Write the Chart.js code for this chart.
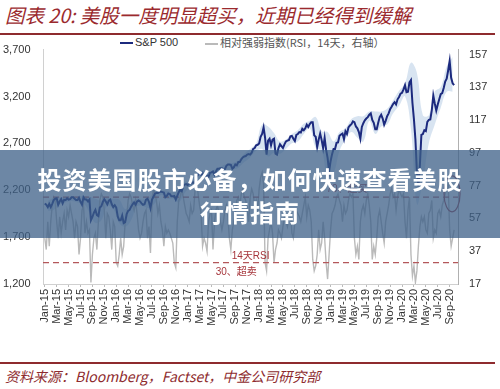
<!DOCTYPE html>
<html>
<head>
<meta charset="utf-8">
<script src="https://cdn.jsdelivr.net/npm/chart.js@4.4.0/dist/chart.umd.min.js"></script>
<style>
  body { margin: 0; width: 500px; height: 389px; background: #fff; position: relative; overflow: hidden; font-family: 'Liberation Sans', 'Noto Sans CJK SC', sans-serif; }
  .title { position: absolute; left: 5px; top: 2px; font: italic 19.5px 'Noto Sans CJK SC'; color: #9b2a2e; white-space: nowrap; line-height: 26px; }
  .rule { position: absolute; left: 0; width: 495px; height: 1.5px; background: #8e2b2e; }
  .legend { position: absolute; top: 35px; height: 14px; line-height: 14px; font-size: 11px; color: #333; white-space: nowrap; }
  .legend i { display: inline-block; width: 13px; vertical-align: middle; margin-right: 2px; }
  #c { position: absolute; left: 0; top: 40px; }
  .banner { position: absolute; left: 0; top: 150px; width: 500px; height: 88px; box-sizing: border-box; padding-top: 12px;
            background: rgba(60, 95, 135, 0.75); color: #fff; font: bold 24px 'Noto Sans CJK SC'; letter-spacing: 1px;
            text-align: center; line-height: 33px; }
  .source { position: absolute; left: 5px; top: 366px; font: italic 14px 'Noto Sans CJK SC'; color: #8e2b2e; white-space: nowrap; line-height: 20px; }
</style>
</head>
<body>
<div class="title">图表 20: 美股一度明显超买，近期已经得到缓解</div>
<div class="rule" style="top:33px"></div>
<div class="legend" style="left:120px"><i style="height:2px;background:#1c2a7e"></i>S&amp;P 500</div>
<div class="legend" style="left:205px;color:#555;font-family:'Noto Sans CJK SC'"><i style="height:1.5px;background:#bababa"></i>相对强弱指数(RSI，14天，右轴）</div>
<canvas id="c" width="500" height="306"></canvas>
<div class="banner">投资美国股市必备，如何快速查看美股<br>行情指南</div>
<div class="rule" style="top:362px"></div>
<div class="source">资料来源：Bloomberg，Factset，中金公司研究部</div>
<script>
// weekly points, 4 per month, Jan-15 .. Sep-20
const spx = [
  2058,2045,2020,2055, 2020,2055,2095,2110, 2115,2045,2080,2105, 2060,2100,2095,2115, 2100,2105,2125,2125, 2110,2095,2095,2120,
  2075,2045,2125,2100, 2100,2080,2100,1880, 1915,1960,1990,1935, 1925,2015,2030,2075, 2105,2080,2050,2090, 2100,2050,2020,2040,
  2015,1920,1880,1880, 1930,1850,1860,1945, 1980,1990,2025,2050, 2070,2045,2080,2090, 2080,2060,2045,2050, 2100,2110,2075,2010,
  2100,2130,2165,2170, 2170,2180,2185,2180, 2175,2125,2140,2165, 2160,2135,2135,2140, 2100,2140,2180,2205, 2190,2245,2260,2265,
  2255,2275,2270,2280, 2280,2300,2345,2365, 2395,2365,2385,2345, 2360,2355,2345,2385, 2390,2400,2365,2400, 2430,2430,2435,2435,
  2425,2425,2460,2475, 2475,2470,2430,2445, 2475,2465,2500,2500, 2530,2550,2560,2565, 2580,2585,2580,2600, 2640,2650,2680,2685,
  2700,2770,2800,2870, 2760,2580,2730,2750, 2680,2740,2750,2590, 2580,2650,2690,2670, 2650,2690,2720,2730, 2735,2775,2780,2750,
  2725,2790,2800,2820, 2815,2855,2840,2860, 2900,2875,2905,2925, 2925,2785,2770,2660, 2740,2805,2735,2650, 2760,2630,2545,2400,
  2510,2585,2640,2640, 2705,2710,2780,2795, 2805,2745,2830,2800, 2870,2890,2905,2935, 2925,2880,2860,2820, 2750,2875,2915,2945,
  2965,2980,3005,3020, 2950,2920,2850,2850, 2920,2980,3005,2965, 2900,2940,2990,3020, 3065,3090,3120,3140, 3115,3170,3195,3230,
  3240,3275,3320,3245, 3250,3350,3375,3130, 2955,2740,2390,2240, 2470,2790,2800,2840, 2830,2930,2950,2955, 3055,3210,3125,3050,
  3115,3170,3225,3235, 3290,3360,3390,3480, 3580,3400,3340,3320
];
const rsi = [
  45,38,55,40, 55,65,70,68, 55,45,58,48, 55,60,50,62, 58,65,60,55, 45,55,52,35,
  45,62,65,48, 55,48,50,18, 35,45,48,38, 55,68,72,70, 62,45,60,58, 50,38,55,52,
  30,28,35,45, 35,40,55,58, 68,72,70,65, 62,68,60,50, 45,48,55,60, 62,45,52,36,
  65,75,72,68, 60,65,55,50, 40,52,48,50, 48,45,42,30, 27,55,68,70, 75,70,65,60,
  58,55,65,60, 62,75,80,72, 65,60,40,45, 42,37,55,60, 62,38,55,62, 65,60,55,50,
  55,62,65,58, 45,38,50,55, 60,68,70,65, 72,75,70,68, 62,55,70,75, 72,65,68,62,
  75,82,85,78, 30,25,45,50, 55,48,30,38, 42,50,48,45, 52,58,55,52, 60,62,48,45,
  55,62,60,58, 55,60,65,70, 58,65,62,55, 32,25,28,35, 50,38,42,55, 45,30,20,35,
  50,60,62,65, 70,72,68,65, 55,65,60,62, 68,72,70,72, 45,35,40,32, 55,62,65,60,
  68,72,65,55, 32,40,35,45, 58,62,55,48, 42,55,60,65, 72,75,70,72, 62,70,75,72,
  70,72,55,45, 62,70,35,22, 28,18,25,40, 52,58,55,58, 50,48,60,62, 68,45,50,48,
  60,62,58,65, 68,72,75,78, 50,40,45,50
];
// monthly band around S&P 500
const bandHi = [
  2085,2120,2125,2125,2135,2135,2135,2130,2110,2090,2120,2110,
  2100,2000,2070,2110,2100,2120,2190,2195,2195,2180,2220,2290,
  2290,2380,2410,2390,2420,2450,2480,2490,2520,2590,2640,2700,
  2900,2880,2810,2720,2740,2800,2840,2910,2940,2980,2830,2820,
  2720,2820,2860,2960,2990,2990,3040,3040,3040,3070,3160,3260,
  3340,3560,3450,3000,3000,3250,3300,3520,3620
];
const bandLo = [
  1980,1990,2050,2070,2085,2070,2060,1960,1850,1880,2030,2000,
  1850,1810,1880,2030,2030,2010,2060,2150,2110,2110,2070,2170,
  2240,2260,2340,2330,2360,2400,2410,2420,2440,2500,2550,2620,
  2640,2560,2600,2590,2640,2700,2720,2800,2860,2650,2620,2340,
  2380,2620,2740,2820,2760,2720,2940,2800,2880,2900,3020,3100,
  3200,2850,2050,2300,2700,2900,3080,3250,3250
];
const monthTicks = [
  'Jan-15','Mar-15','May-15','Jul-15','Sep-15','Nov-15',
  'Jan-16','Mar-16','May-16','Jul-16','Sep-16','Nov-16',
  'Jan-17','Mar-17','May-17','Jul-17','Sep-17','Nov-17',
  'Jan-18','Mar-18','May-18','Jul-18','Sep-18','Nov-18',
  'Jan-19','Mar-19','May-19','Jul-19','Sep-19','Nov-19',
  'Jan-20','Mar-20','May-20','Jul-20','Sep-20'
];
const rsiTicks = [17, 37, 57, 77, 97, 117, 137, 157];
const overbought = 70, oversold = 30;

const xMin = -0.3, xMax = 69.4;
const weekly = arr => arr.map((v, i) => ({ x: i / 4, y: v }));
const monthly = arr => arr.map((v, i) => ({ x: i + 0.5, y: v }));
const flat = v => [{ x: xMin, y: v }, { x: xMax, y: v }];

const navy = '#1c2a7e';
const grey = '#bababa';
const darkRed = '#b4585b';

// the small red notes and the ellipse round the latest RSI peak
const notes = {
  id: 'notes',
  afterDatasetsDraw(chart) {
    const { ctx, scales: { x, y1 } } = chart;
    ctx.save();
    ctx.fillStyle = '#a6363c';
    ctx.font = "10px 'Liberation Sans', 'Noto Sans CJK SC'";
    ctx.textBaseline = 'middle';
    ctx.fillText('70、超买', x.getPixelForValue(47.3), y1.getPixelForValue(75));
    ctx.fillText('14天RSI', x.getPixelForValue(31.4), y1.getPixelForValue(34));
    ctx.fillText('30、超卖', x.getPixelForValue(28.7), y1.getPixelForValue(24));
    ctx.strokeStyle = '#a3434b';
    ctx.lineWidth = 1.2;
    ctx.beginPath();
    ctx.ellipse(x.getPixelForValue(68.4), y1.getPixelForValue(72), 8, 18, 0, 0, Math.PI * 2);
    ctx.stroke();
    ctx.restore();
  }
};

new Chart(document.getElementById('c'), {
  type: 'line',
  data: {
    datasets: [
      { label: 'S&P 500', data: weekly(spx), yAxisID: 'y', borderColor: navy, borderWidth: 2, pointRadius: 0 },
      { label: '70', data: flat(overbought), yAxisID: 'y1', borderColor: darkRed, borderWidth: 1.2, borderDash: [6, 4], pointRadius: 0 },
      { label: '30', data: flat(oversold), yAxisID: 'y1', borderColor: darkRed, borderWidth: 1.2, borderDash: [6, 4], pointRadius: 0 },
      { label: '相对强弱指数(RSI，14天，右轴）', data: weekly(rsi), yAxisID: 'y1', borderColor: grey, borderWidth: 1.4, pointRadius: 0 },
      { label: 'band hi', data: monthly(bandHi), yAxisID: 'y', borderColor: 'rgba(0,0,0,0)', backgroundColor: 'rgba(190,210,232,0.6)', pointRadius: 0, fill: '+1', tension: 0.4 },
      { label: 'band lo', data: monthly(bandLo), yAxisID: 'y', borderColor: 'rgba(0,0,0,0)', pointRadius: 0, fill: false, tension: 0.4 }
    ]
  },
  options: {
    responsive: false,
    animation: false,
    devicePixelRatio: 1,
    layout: { padding: { top: 9, left: 3, right: 0, bottom: 0 } },
    plugins: { legend: { display: false }, tooltip: { enabled: false } },
    scales: {
      x: {
        type: 'linear', min: xMin, max: xMax,
        afterBuildTicks: s => { s.ticks = monthTicks.map((_, i) => ({ value: i * 2 })); },
        afterFit: s => { s.height = 62; },
        ticks: {
          autoSkip: false, minRotation: 90, maxRotation: 90, padding: 2,
          color: '#333', font: { family: 'Liberation Sans', size: 11 },
          callback: v => monthTicks[Math.round(v / 2)]
        },
        grid: { drawOnChartArea: false, tickLength: 3, color: '#bbb' },
        border: { color: '#d0d0d0' }
      },
      y: {
        position: 'left', min: 1200, max: 3700,
        ticks: { stepSize: 500, padding: 0, crossAlign: 'far', color: '#333', font: { family: 'Liberation Sans', size: 11 },
                 callback: v => v.toLocaleString('en-US') },
        afterFit: s => { s.width = 40; },
        grid: { display: false },
        border: { color: '#d0d0d0' }
      },
      y1: {
        position: 'right', min: 17, max: 160,
        afterBuildTicks: s => { s.ticks = rsiTicks.map(v => ({ value: v })); },
        ticks: { padding: 3, color: '#333', font: { family: 'Liberation Sans', size: 11 } },
        afterFit: s => { s.width = 42; },
        grid: { display: false },
        border: { color: '#b0b0b0' }
      }
    }
  },
  plugins: [notes]
});
</script>
</body>
</html>
